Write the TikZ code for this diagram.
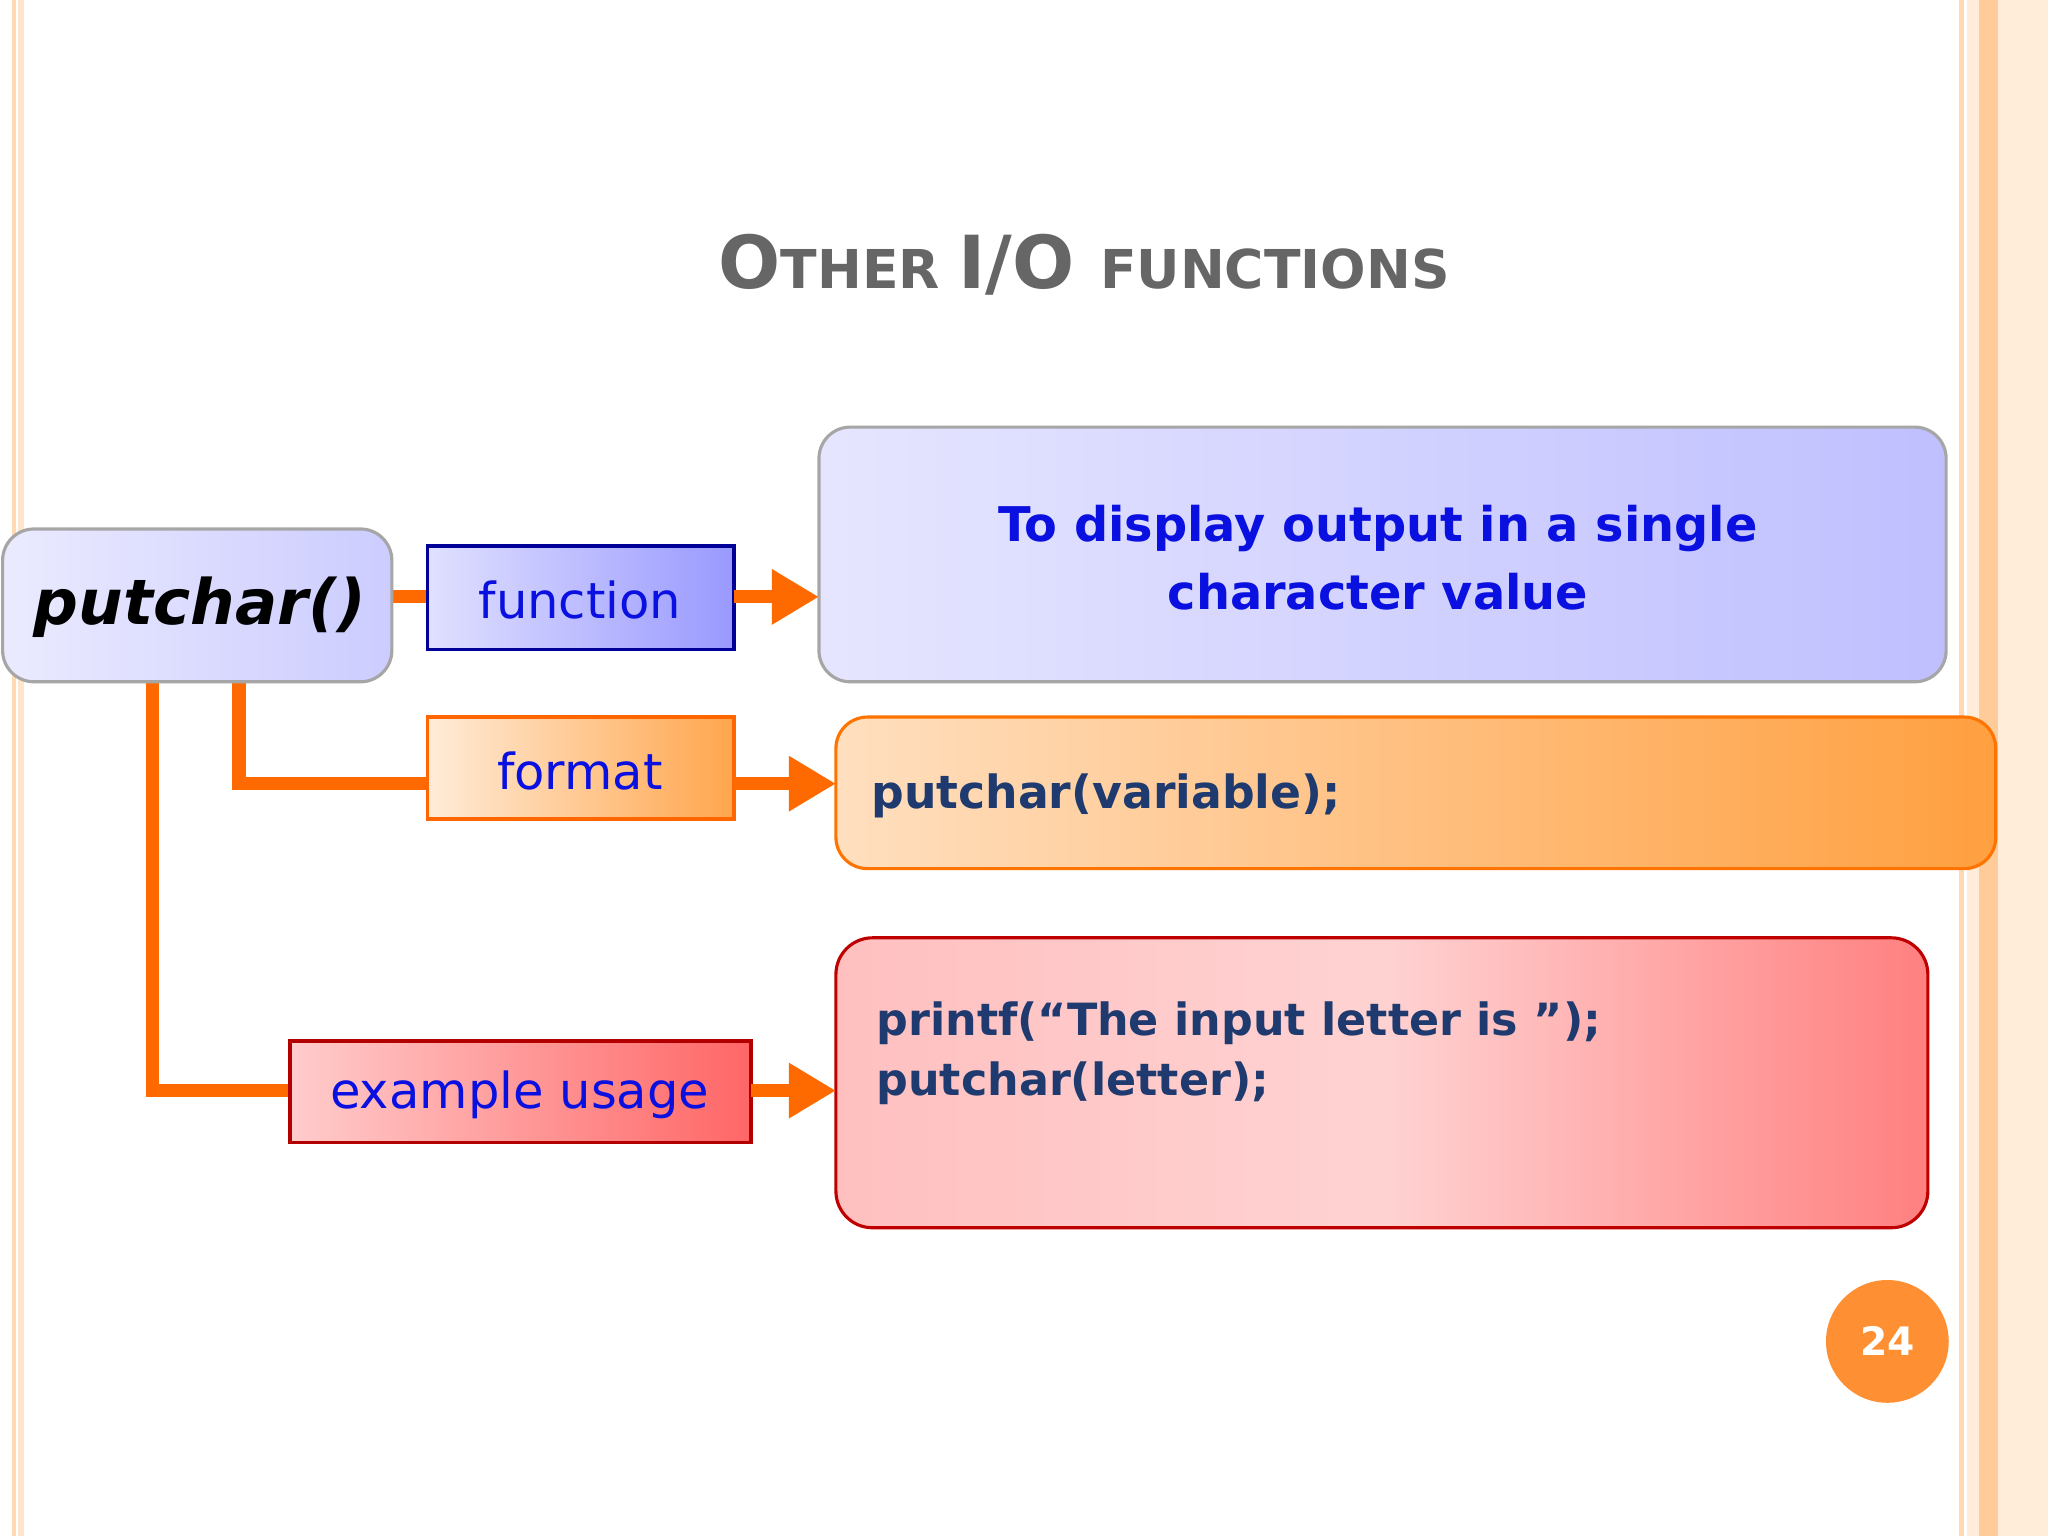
\documentclass[tikz,border=0pt]{standalone}
\usepackage{fontspec}
\setmainfont{DejaVu Sans}
\usetikzlibrary{arrows.meta}
\definecolor{org}{HTML}{FF6A00}
\definecolor{navy}{HTML}{1F3A6E}
\definecolor{tblue}{HTML}{0A10E0}
\tikzset{
 px/.style={x=0.5pt,y=-0.5pt},
 conn/.style={draw=org,line width=5pt},
 arr/.style={conn,-{Triangle[length=18pt,width=20pt]}},
 bluebox/.style={draw=gray!70,rounded corners=12pt,left color=blue!10,right color=blue!25,line width=1.2pt},
 lab/.style={font=\fontsize{19}{22}\selectfont,text=tblue},
}
\begin{document}
\begin{tikzpicture}[px]
\useasboundingbox (0,0) rectangle (1568,1176);
\fill[white] (0,0) rectangle (1568,1176);
% borders
\fill[orange!30] (9,0) rectangle (12,1176);
\fill[orange!20] (14,0) rectangle (18,1176);
\fill[orange!30] (1500,0) rectangle (1504,1176);
\fill[orange!15] (1506,0) rectangle (1515,1176);
\fill[orange!40] (1515,0) rectangle (1530,1176);
\fill[orange!15] (1530,0) rectangle (1568,1176);
% title
\node[text=gray!80!black,font=\bfseries] (title) at (830,203)
 {{\fontsize{28}{30}\selectfont O}{\fontsize{20.5}{24}\selectfont THER }{\fontsize{28}{30}\selectfont I/O }{\fontsize{20.5}{24}\selectfont FUNCTIONS}};
% connectors
\coordinate (c1) at (183,522);
\coordinate (c2) at (117,522);
\draw[conn] (c1) |- (327,600) coordinate (fl);
\draw[conn] (c2) |- (222,835) coordinate (el);
\draw[conn] (300,457) -- (327,457);
% nodes
\draw[bluebox,left color=blue!8,right color=blue!20] (2,405) rectangle (300,522);
\node[font=\fontsize{24}{28}\selectfont\bfseries\itshape] (put) at (153,465) {putchar()};
\draw[draw=blue!60!black,line width=1.2pt,left color=blue!12,right color=blue!40] (327,418) rectangle (562,497);
\node[lab] (fun) at (444,459) {function};
\draw[bluebox] (627,327) rectangle (1490,522);
\node[font=\fontsize{18.3}{26}\selectfont\bfseries,text=tblue,align=center] (d1) at (1055,427) {To display output in a single\\character value};
\draw[draw=orange!80!red,line width=1.2pt,left color=orange!15,right color=orange!70] (327,549) rectangle (562,627);
\node[lab] (fmt) at (444,590) {format};
\draw[draw=orange!90!red,rounded corners=12pt,line width=1.2pt,left color=orange!25,right color=orange!75] (640,549) rectangle (1528,665);
\node[font=\fontsize{17.5}{22}\selectfont\bfseries,text=navy,anchor=west] (d2) at (660,609) {putchar(variable);};
\draw[draw=red!70!black,line width=1.2pt,left color=red!20,right color=red!60] (222,797) rectangle (575,875);
\node[lab] (ex) at (398,838) {example usage};
\draw[draw=red!75!black,rounded corners=14pt,line width=1.2pt,left color=red!25,right color=red!50,middle color=pink!70] (640,718) rectangle (1476,940);
\node[font=\fontsize{17}{23}\selectfont\bfseries,text=navy,anchor=north west,align=left] (d3) at (664,760) {printf(“The input letter is ”);\\putchar(letter);};
% arrows
\draw[arr] (562,457) -- (627,457);
\draw[arr] (562,600) -- (640,600);
\draw[arr] (575,835) -- (640,835);
% page number
\fill[orange!90!red!80] (1445,1027) circle (47);
\node[text=white,font=\fontsize{15}{18}\selectfont\bfseries] (pg) at (1445,1027) {24};
\end{tikzpicture}
\end{document}
